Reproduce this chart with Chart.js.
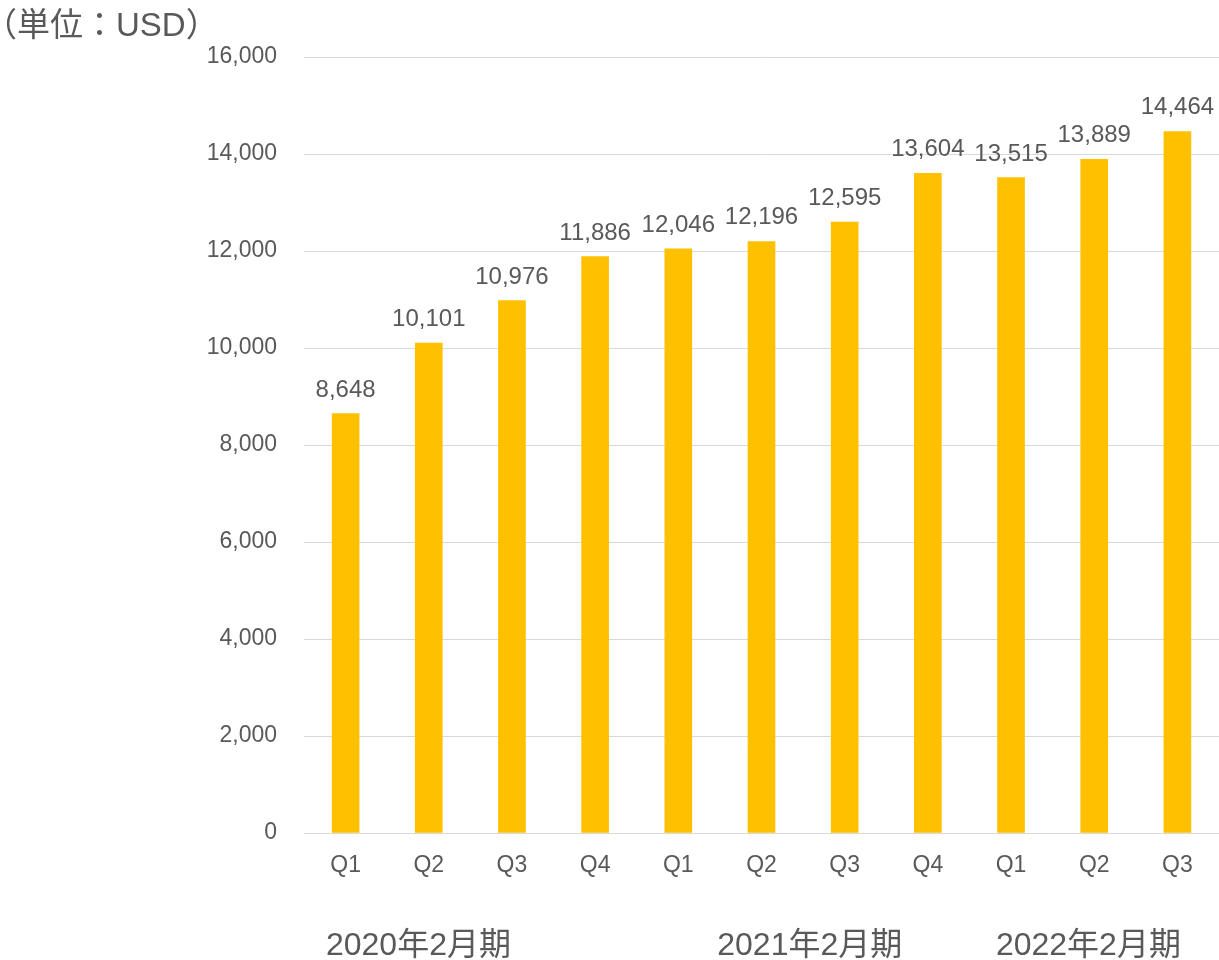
<!DOCTYPE html>
<html>
<head>
<meta charset="utf-8">
<script src="https://cdn.jsdelivr.net/npm/chart.js@4/dist/chart.umd.min.js"></script>
<style>
  html, body { margin: 0; padding: 0; background: #ffffff; }
  #wrap { width: 1219px; height: 960px; position: relative; }
</style>
</head>
<body>
<div id="wrap"><canvas id="revenueChart"></canvas></div>
<script>
// data
const quarterLabels = ['Q1', 'Q2', 'Q3', 'Q4', 'Q1', 'Q2', 'Q3', 'Q4', 'Q1', 'Q2', 'Q3'];
const revenueValues = [8648, 10101, 10976, 11886, 12046, 12196, 12595, 13604, 13515, 13889, 14464];
const fiscalYearLabels = ['2020年2月期', '2021年2月期', '2022年2月期'];
const unitLabel = '（単位：USD）';

const textColor = '#595959';
const fontFamily = '"Liberation Sans", Arial, "Noto Sans CJK JP", sans-serif';

// where the fiscal year captions sit, in category units
const fiscalYearCenters = [0.876, 5.58, 8.93];

const extraTextPlugin = {
    id: 'extraText',
    afterDatasetsDraw(chart) {
        const ctx = chart.ctx;
        const meta = chart.getDatasetMeta(0);
        ctx.save();
        ctx.fillStyle = textColor;

        // value labels above bars
        ctx.font = '24px ' + fontFamily;
        ctx.textAlign = 'center';
        ctx.textBaseline = 'alphabetic';
        meta.data.forEach(function(bar, i) {
            ctx.fillText(revenueValues[i].toLocaleString('en-US'), bar.x, bar.y - 17);
        });

        // fiscal year captions below the axis
        const xScale = chart.scales.x;
        const p0 = xScale.getPixelForValue(0);
        const step = xScale.getPixelForValue(1) - p0;
        ctx.font = '32px ' + fontFamily;
        ctx.textBaseline = 'middle';
        fiscalYearLabels.forEach(function(label, i) {
            ctx.fillText(label, p0 + fiscalYearCenters[i] * step, 946);
        });

        // unit caption top-left
        ctx.textAlign = 'left';
        ctx.font = '33px ' + fontFamily;
        ctx.fillText(unitLabel, -16, 27);
        ctx.restore();
    }
};

const ctx = document.getElementById('revenueChart').getContext('2d');
window.chart = new Chart(ctx, {
    type: 'bar',
    data: {
        labels: quarterLabels,
        datasets: [{
            label: 'Revenue',
            data: revenueValues,
            backgroundColor: '#FFC000',
            borderWidth: 0,
            barThickness: 27
        }]
    },
    options: {
        responsive: true,
        maintainAspectRatio: false,
        animation: false,
        layout: { padding: { top: 57, left: 0, right: 0, bottom: 0 } },
        scales: {
            x: {
                grid: { display: false },
                border: { display: false },
                ticks: {
                    color: textColor,
                    font: { family: fontFamily, size: 23 },
                    padding: 11,
                    maxRotation: 0
                },
                afterFit(scale) { scale.height = 127; }
            },
            y: {
                min: 0,
                max: 16000,
                grid: { color: '#D9D9D9', lineWidth: 1, drawTicks: false },
                border: { display: false },
                ticks: {
                    stepSize: 2000,
                    color: textColor,
                    font: { family: fontFamily, size: 23 },
                    padding: 27,
                    callback: function(value) { return value.toLocaleString('en-US'); }
                },
                afterFit(scale) { scale.width = 304; }
            }
        },
        plugins: {
            legend: { display: false },
            tooltip: { enabled: false }
        }
    },
    plugins: [extraTextPlugin]
});
</script>
</body>
</html>
